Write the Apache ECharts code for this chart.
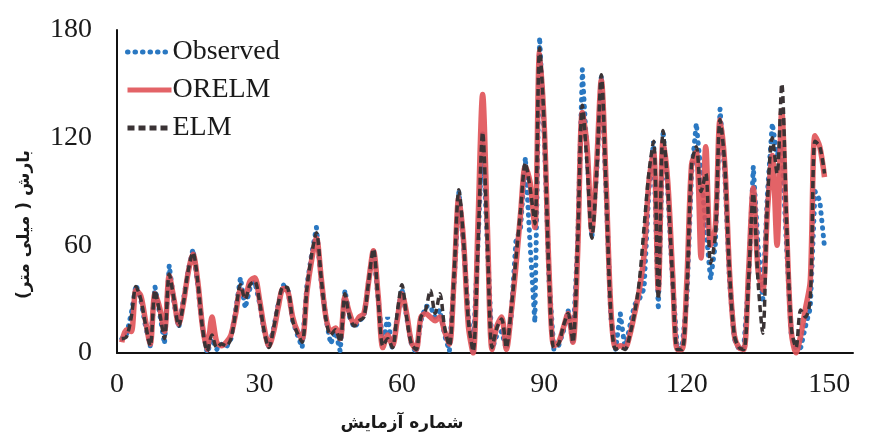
<!DOCTYPE html>
<html>
<head>
<meta charset="utf-8">
<script src="https://cdn.jsdelivr.net/npm/echarts@6/dist/echarts.min.js"></script>
<style>
  html, body { margin: 0; padding: 0; background: #fff; }
  #chart { width: 875px; height: 437px; }
</style>
</head>
<body>
<div id="chart"></div>
<script>
/* Observed vs ORELM vs ELM — rainfall per trial */

// ---- data (trial 1..149) ----
var observed = [
  8, 10, 22, 38, 30, 15, 4, 37, 22, 5,
  49, 28, 14, 30, 46, 58, 38, 14, 0, 8,
  2, 5, 3, 8, 24, 42, 25, 36, 40, 28,
  12, 3, 14, 28, 38, 35, 18, 10, 3, 38,
  55, 70, 40, 19, 5, 12, 1, 35, 20, 14,
  18, 20, 40, 58, 30, 5, 20, 2, 20, 36,
  20, 5, 0, 18, 26, 26, 20, 24, 10, 1,
  40, 90, 60, 20, 0, 60, 123, 60, 2, 10,
  12, 2, 20, 62, 70, 109, 60, 17, 176, 120,
  40, 2, 4, 12, 24, 5, 60, 158, 110, 64,
  100, 155, 90, 20, 2, 22, 2, 15, 27, 30,
  36, 90, 118, 24, 124, 90, 40, 2, 3, 30,
  100, 128, 100, 70, 41, 60, 136, 100, 40, 8,
  2, 3, 40, 104, 60, 30, 90, 128, 110, 115,
  60, 10, 2, 3, 15, 25, 90, 85, 59
];
var orelm = [
  6, 13, 12, 35, 32, 18, 5, 33, 25, 12,
  43, 30, 16, 28, 45, 55, 40, 15, 2, 20,
  6, 4, 6, 10, 22, 35, 32, 40, 42, 30,
  14, 4, 12, 26, 36, 34, 20, 12, 8, 34,
  52, 64, 42, 20, 12, 14, 8, 31, 22, 16,
  20, 22, 40, 57, 32, 3, 10, 4, 18, 33,
  22, 6, 2, 20, 22, 20, 18, 20, 12, 5,
  42, 87, 62, 15, 0, 70, 144, 70, 2, 15,
  20, 2, 22, 48, 78, 104, 95, 70, 168, 125,
  45, 4, 6, 14, 22, 6, 55, 134, 115, 68,
  105, 152, 95, 25, 3, 4, 3, 10, 22, 35,
  55, 95, 112, 35, 118, 95, 45, 2, 2, 40,
  105, 112, 53, 115, 60, 70, 130, 105, 45, 10,
  3, 2, 45, 92, 46, 35, 80, 110, 60, 135,
  70, 12, 0, 10, 25, 40, 121, 115, 98
];
var elm = [
  8, 9, 20, 37, 30, 16, 4, 35, 22, 8,
  44, 30, 15, 28, 46, 56, 40, 14, 1, 10,
  3, 5, 4, 8, 23, 38, 30, 38, 40, 29,
  12, 3, 14, 28, 37, 36, 18, 11, 6, 36,
  55, 67, 42, 19, 10, 13, 6, 33, 20, 15,
  18, 20, 40, 58, 30, 4, 8, 3, 22, 38,
  20, 5, 2, 20, 24, 35, 22, 33, 14, 4,
  45, 91, 62, 18, 1, 58, 123, 62, 3, 14,
  19, 3, 24, 52, 80, 106, 92, 72, 170, 125,
  42, 3, 5, 15, 22, 6, 60, 138, 105, 64,
  100, 155, 92, 22, 2, 3, 2, 10, 22, 40,
  70, 100, 118, 30, 124, 92, 42, 2, 2, 35,
  105, 115, 90, 100, 50, 65, 130, 105, 45, 10,
  3, 2, 40, 89, 40, 11, 85, 120, 100, 150,
  75, 14, 3, 24, 20, 30, 118, 115, 100
];
var xTicks = [0, 30, 60, 90, 120, 150];
var yTicks = [0, 60, 120, 180];

function pairs(arr) {
  return arr.map(function(v, i) { return [i + 1, v]; });
}

var chart = echarts.init(document.getElementById("chart"));
var serif = "Liberation Serif";

chart.setOption({
  animation: false,
  grid: { left: 117, right: 22, top: 30, bottom: 79 },
  legend: {
    orient: "vertical",
    left: 120,
    top: 33,
    itemWidth: 44,
    itemHeight: 12,
    itemGap: 10,
    itemStyle: { opacity: 0 },
    lineStyle: { width: 5 },
    textStyle: { fontFamily: serif, fontSize: 28, color: "#1a1a1a", padding: [0, 0, 0, -4] },
    data: ["Observed", "ORELM", "ELM"]
  },
  xAxis: {
    type: "value",
    min: 0,
    max: 155,
    interval: 30,
    name: "شماره آزمایش",
    nameLocation: "middle",
    nameGap: 62,
    nameTextStyle: { fontFamily: "DejaVu Sans", fontSize: 17, fontWeight: "bold", color: "#1a1a1a", padding: [0, 166, 0, 0] },
    axisLine: { show: true, onZero: false, lineStyle: { color: "#111", width: 2 } },
    axisTick: { show: false },
    splitLine: { show: false },
    axisLabel: {
      fontFamily: serif, fontSize: 28, color: "#1a1a1a", margin: 18,
      formatter: function(v) { return xTicks.indexOf(v) >= 0 ? String(v) : ""; }
    }
  },
  yAxis: {
    type: "value",
    min: 0,
    max: 180,
    interval: 60,
    name: "بارش ( میلی متر)",
    nameLocation: "middle",
    nameRotate: 90,
    nameGap: 84,
    nameTextStyle: { fontFamily: "DejaVu Sans", fontSize: 17, fontWeight: "bold", color: "#1a1a1a", padding: [0, 66, 0, 0] },
    axisLine: { show: true, lineStyle: { color: "#111", width: 2 } },
    axisTick: { show: false },
    splitLine: { show: false },
    axisLabel: {
      fontFamily: serif, fontSize: 28, color: "#1a1a1a", margin: 25,
      formatter: function(v) { return yTicks.indexOf(v) >= 0 ? String(v) : ""; }
    }
  },
  series: [
    {
      name: "Observed",
      type: "line",
      data: pairs(observed),
      symbol: "none",
      smooth: false,
      z: 1,
      itemStyle: { color: "#2a78c2" },
      lineStyle: { color: "#2a78c2", width: 5, type: [0.5, 7], cap: "round" }
    },
    {
      name: "ORELM",
      type: "line",
      data: pairs(orelm),
      symbol: "none",
      smooth: 0.3,
      z: 2,
      itemStyle: { color: "#e05257" },
      lineStyle: { color: "#e05257", width: 5.5, opacity: 0.9 }
    },
    {
      name: "ELM",
      type: "line",
      data: pairs(elm),
      symbol: "none",
      smooth: 0.3,
      z: 3,
      itemStyle: { color: "#3a3335" },
      lineStyle: { color: "#3a3335", width: 3.5, type: [7, 4] }
    }
  ]
});
</script>
</body>
</html>
